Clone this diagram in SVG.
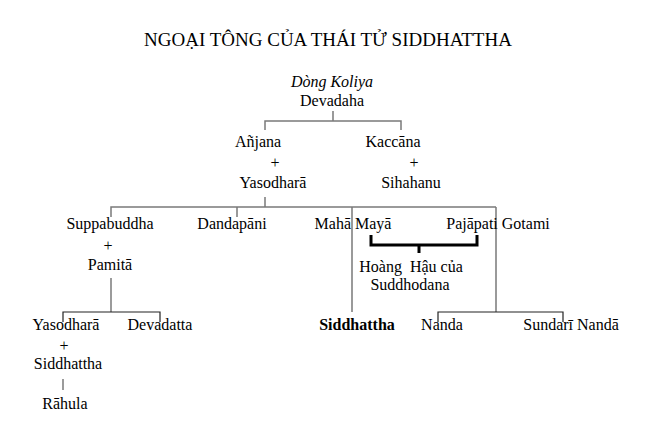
<svg xmlns="http://www.w3.org/2000/svg" width="655" height="447" viewBox="0 0 655 447">
<style>
text{font-family:'Liberation Serif','Times New Roman',Tinos,'DejaVu Serif',serif;font-size:16px;fill:#000;text-anchor:middle}
.title{font-size:19px}
.it{font-style:italic}
.b{font-weight:bold}
.g{stroke:#7a7a7a;stroke-width:1.5;fill:none}
.k{stroke:#222;stroke-width:1.2;fill:none}
.br{stroke:#000;stroke-width:3;fill:none}
</style>
<rect width="655" height="447" fill="#fff"/>
<g font-family="Liberation Serif, Times New Roman, DejaVu Serif, serif">
<text class="title" x="328" y="46">NGOẠI TÔNG CỦA THÁI TỬ SIDDHATTHA</text>
<g id="connectors">
<path class="g" d="M333 111V121M265 130V121H401V130"/>
<path class="g" d="M265 197V207M111 217V207H496M237 207V217M352 207V312M496 207V312"/>
<path class="g" d="M111 278V312"/>
<path class="k" d="M63 322V312H160V322"/>
<path class="k" d="M438 322V312H563V322"/>
<path class="g" d="M63 379V390"/>
<path class="br" d="M371 235V245H477V235M419 245V253"/>
</g>
<g id="koliya"><text class="it" x="332" y="87">Dòng Koliya</text><text x="332" y="106">Devadaha</text></g>
<g id="anjana"><text x="258" y="147">Añjana</text><text x="275" y="168">+</text><text x="273" y="188">Yasodharā</text></g>
<g id="kaccana"><text x="393" y="147">Kaccāna</text><text x="414" y="168">+</text><text x="411" y="188">Sihahanu</text></g>
<g id="suppabuddha"><text x="110" y="229">Suppabuddha</text><text x="108" y="251">+</text><text x="110" y="270">Pamitā</text></g>
<g id="dandapani"><text x="232" y="229">Dandapāni</text></g>
<g id="mahamaya"><text x="353" y="229">Mahā Mayā</text></g>
<g id="pajapati"><text x="498" y="229">Pajāpati Gotami</text></g>
<g id="hoanghau"><text x="411" y="272" xml:space="preserve">Hoàng  Hậu của</text><text x="410" y="290">Suddhodana</text></g>
<g id="yasodhara2"><text x="66" y="330">Yasodharā</text><text x="64" y="351">+</text><text x="68" y="369">Siddhattha</text></g>
<g id="rahula"><text x="65" y="409">Rāhula</text></g>
<g id="devadatta"><text x="160" y="330">Devadatta</text></g>
<g id="siddhattha"><text class="b" x="357" y="330">Siddhattha</text></g>
<g id="nanda"><text x="442" y="330">Nanda</text></g>
<g id="sundari"><text x="571" y="330">Sundarī Nandā</text></g>
</g>
</svg>
